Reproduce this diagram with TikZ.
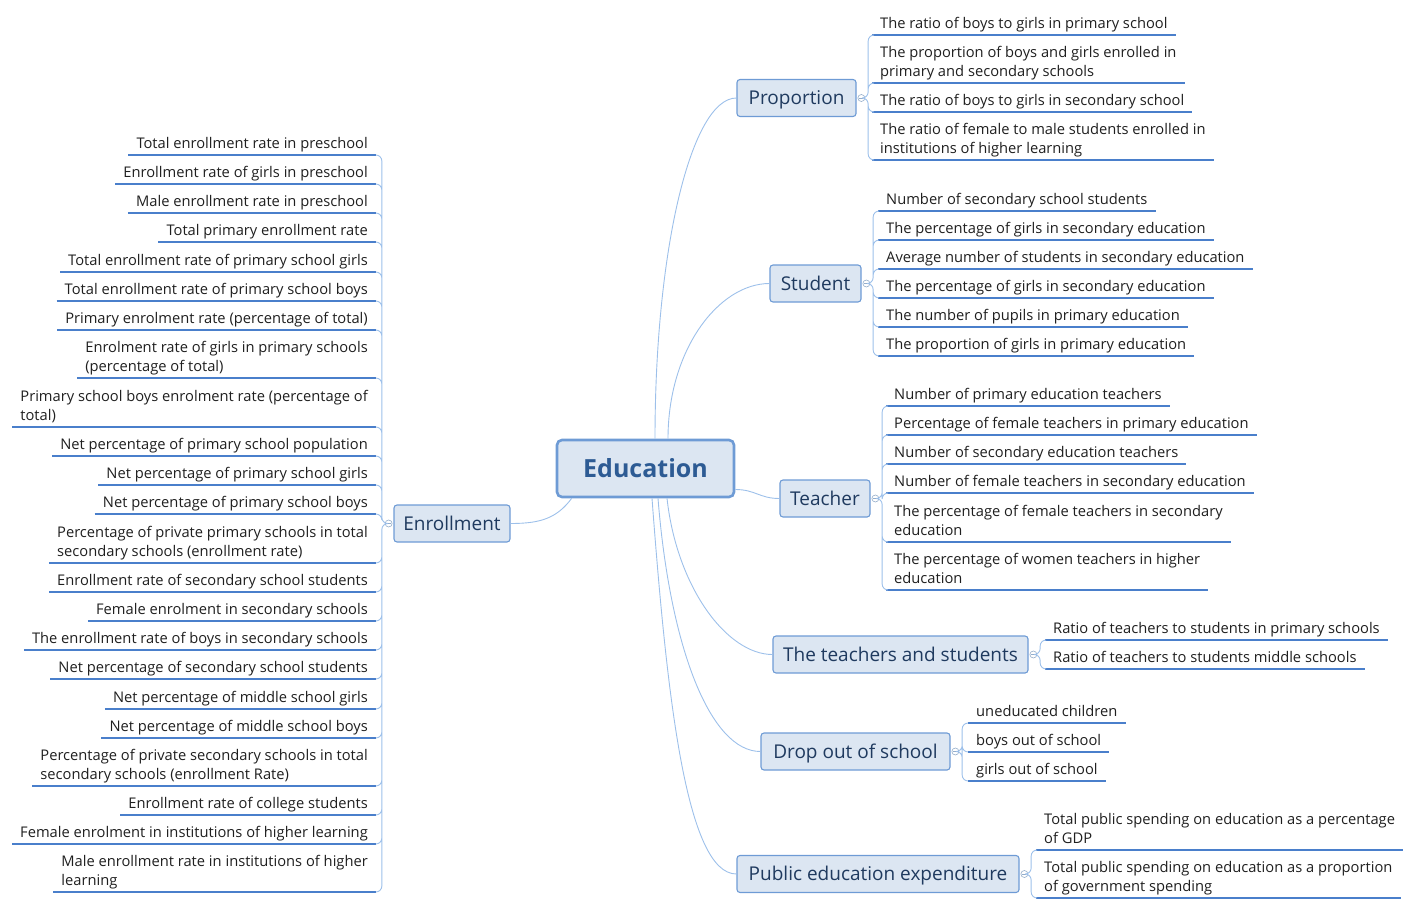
\documentclass[tikz,border=0pt]{standalone}
\usepackage{fontspec}
\setmainfont{Open Sans}
\usetikzlibrary{positioning}
\definecolor{boxfill}{HTML}{DCE6F2}
\definecolor{boxline}{HTML}{6E9BD5}
\definecolor{topictext}{HTML}{1F3A5F}
\definecolor{edutext}{HTML}{2D5B94}
\definecolor{twig}{HTML}{9DC0EA}
\definecolor{uline}{HTML}{4A7FCB}
\tikzset{
root/.style={draw=boxline, line width=2.6pt, fill=boxfill, rounded corners=5pt,
  minimum width=177pt, minimum height=57pt, text=edutext,
  text height=22pt, text depth=4pt,
  font=\fontsize{25}{30}\selectfont\bfseries},
topic/.style={draw=boxline, line width=1.1pt, fill=boxfill, rounded corners=3pt,
  inner xsep=4pt, minimum height=37pt, text=topictext,
  text height=17pt, text depth=3.5pt,
  font=\fontsize{19}{23}\selectfont},
leaf/.style={inner xsep=8pt, inner ysep=3pt, text depth=3pt, align=left,
  text=black!88, font=\fontsize{14.7}{19}\selectfont,
  append after command={(\tikzlastnode.south west) edge[draw=uline, line width=1.4pt] (\tikzlastnode.south east)}},
leafR/.style={leaf, anchor=south west},
leafL/.style={leaf, anchor=south east},
hub/.style={circle, draw=twig!70!gray, fill=white, line width=0.6pt, inner sep=0pt,
  minimum size=7pt, path picture={\draw[twig!70!gray, line width=0.5pt]
  ([xshift=-2pt]path picture bounding box.center) -- ([xshift=2pt]path picture bounding box.center);}},
stem/.style={draw=twig, line width=0.9pt},
brR/.style={stem, rounded corners=6pt, to path={-- ++(3,0) |- (\tikztotarget)}},
brL/.style={stem, rounded corners=6pt, to path={-- ++(-3,0) |- (\tikztotarget)}}
}

\begin{document}
\begin{tikzpicture}[x=1pt, y=1pt]
\useasboundingbox (0,0) rectangle (1414,-907);

% main topics
\node[root] (edu) at (645.5,-468.5) {Education};
\node[topic, minimum width=119pt] (pro) at (796.5,-98) {Proportion};
\node[topic, minimum width=91pt] (stu) at (815.5,-283.5) {Student};
\node[topic, minimum width=90pt] (tea) at (825,-498.5) {Teacher};
\node[topic, minimum width=255pt] (tas) at (900.5,-654.5) {The teachers and students};
\node[topic, minimum width=189pt] (dro) at (855.5,-751.5) {Drop out of school};
\node[topic, minimum width=282pt] (pub) at (878,-874) {Public education expenditure};
\node[topic, minimum width=116pt] (enr) at (452,-523.5) {Enrollment};

\node[hub, right=1pt of pro] (pro-h) {};
\node[hub, right=1pt of stu] (stu-h) {};
\node[hub, right=1pt of tea] (tea-h) {};
\node[hub, right=1pt of tas] (tas-h) {};
\node[hub, right=1pt of dro] (dro-h) {};
\node[hub, right=1pt of pub] (pub-h) {};
\node[hub, left=1pt of enr] (enr-h) {};

% from the centre
\draw[stem] ([xshift=9.5pt]edu.north) .. controls +(0,190) and +(-45,0) .. (pro.west);
\draw[stem] ([xshift=22.5pt]edu.north) .. controls +(0,90) and +(-50,0) .. (stu.west);
\draw[stem] ([yshift=-21pt]edu.east) .. controls +(20,0) and +(-20,0) .. (tea.west);
\draw[stem] ([xshift=21.5pt]edu.south) .. controls +(10,-90) and +(-45,0) .. (tas.west);
\draw[stem] ([xshift=12.5pt]edu.south) .. controls +(12,-150) and +(-50,0) .. (dro.west);
\draw[stem] ([xshift=6.5pt]edu.south) .. controls +(15,-200) and +(-50,0) .. (pub.west);
\draw[stem] ([xshift=16pt]edu.south west) .. controls +(-15,-20) and +(30,0) .. (enr.east);

% Proportion
\node[leafR] (pro1) at (872,-35) {The ratio of boys to girls in primary school};
\node[leafR] (pro2) at (872,-83) {The proportion of boys and girls enrolled in\\primary and secondary schools};
\node[leafR] (pro3) at (872,-112) {The ratio of boys to girls in secondary school};
\node[leafR] (pro4) at (872,-160) {The ratio of female to male students enrolled in\\institutions of higher learning};
\draw[brR] (pro-h.east) to (pro1.south west) (pro-h.east) to (pro2.south west)
  (pro-h.east) to (pro3.south west) (pro-h.east) to (pro4.south west);

% Student
\node[leafR] (stu1) at (878,-211) {Number of secondary school students};
\node[leafR] (stu2) at (878,-240) {The percentage of girls in secondary education};
\node[leafR] (stu3) at (878,-269) {Average number of students in secondary education};
\node[leafR] (stu4) at (878,-298) {The percentage of girls in secondary education};
\node[leafR] (stu5) at (878,-327) {The number of pupils in primary education};
\node[leafR] (stu6) at (878,-356) {The proportion of girls in primary education};
\draw[brR] (stu-h.east) to (stu1.south west) (stu-h.east) to (stu2.south west)
  (stu-h.east) to (stu3.south west) (stu-h.east) to (stu4.south west)
  (stu-h.east) to (stu5.south west) (stu-h.east) to (stu6.south west);

% Teacher
\node[leafR] (tea1) at (886,-406) {Number of primary education teachers};
\node[leafR] (tea2) at (886,-435) {Percentage of female teachers in primary education};
\node[leafR] (tea3) at (886,-464) {Number of secondary education teachers};
\node[leafR] (tea4) at (886,-493) {Number of female teachers in secondary education};
\node[leafR] (tea5) at (886,-542) {The percentage of female teachers in secondary\\education};
\node[leafR] (tea6) at (886,-590) {The percentage of women teachers in higher\\education};
\draw[brR] (tea-h.east) to (tea1.south west) (tea-h.east) to (tea2.south west)
  (tea-h.east) to (tea3.south west) (tea-h.east) to (tea4.south west)
  (tea-h.east) to (tea5.south west) (tea-h.east) to (tea6.south west);

% The teachers and students
\node[leafR] (tas1) at (1045,-640) {Ratio of teachers to students in primary schools};
\node[leafR] (tas2) at (1045,-669) {Ratio of teachers to students middle schools};
\draw[brR] (tas-h.east) to (tas1.south west) (tas-h.east) to (tas2.south west);

% Drop out of school
\node[leafR] (dro1) at (968,-723) {uneducated children};
\node[leafR] (dro2) at (968,-752) {boys out of school};
\node[leafR] (dro3) at (968,-781) {girls out of school};
\draw[brR] (dro-h.east) to (dro1.south west) (dro-h.east) to (dro2.south west)
  (dro-h.east) to (dro3.south west);

% Public education expenditure
\node[leafR] (pub1) at (1036,-850) {Total public spending on education as a percentage\\of GDP};
\node[leafR] (pub2) at (1036,-898) {Total public spending on education as a proportion\\of government spending};
\draw[brR] (pub-h.east) to (pub1.south west) (pub-h.east) to (pub2.south west);

% Enrollment
\node[leafL] (enr1) at (376,-155) {Total enrollment rate in preschool};
\node[leafL] (enr2) at (376,-184) {Enrollment rate of girls in preschool};
\node[leafL] (enr3) at (376,-213) {Male enrollment rate in preschool};
\node[leafL] (enr4) at (376,-242) {Total primary enrollment rate};
\node[leafL] (enr5) at (376,-272) {Total enrollment rate of primary school girls};
\node[leafL] (enr6) at (376,-301) {Total enrollment rate of primary school boys};
\node[leafL] (enr7) at (376,-330) {Primary enrolment rate (percentage of total)};
\node[leafL] (enr8) at (376,-378) {Enrolment rate of girls in primary schools\\(percentage of total)};
\node[leafL] (enr9) at (376,-427) {Primary school boys enrolment rate (percentage of\\total)};
\node[leafL] (enr10) at (376,-456) {Net percentage of primary school population};
\node[leafL] (enr11) at (376,-485) {Net percentage of primary school girls};
\node[leafL] (enr12) at (376,-514) {Net percentage of primary school boys};
\node[leafL] (enr13) at (376,-563) {Percentage of private primary schools in total\\secondary schools (enrollment rate)};
\node[leafL] (enr14) at (376,-592) {Enrollment rate of secondary school students};
\node[leafL] (enr15) at (376,-621) {Female enrolment in secondary schools};
\node[leafL] (enr16) at (376,-650) {The enrollment rate of boys in secondary schools};
\node[leafL] (enr17) at (376,-679) {Net percentage of secondary school students};
\node[leafL] (enr18) at (376,-709) {Net percentage of middle school girls};
\node[leafL] (enr19) at (376,-738) {Net percentage of middle school boys};
\node[leafL] (enr20) at (376,-786) {Percentage of private secondary schools in total\\secondary schools (enrollment Rate)};
\node[leafL] (enr21) at (376,-815) {Enrollment rate of college students};
\node[leafL] (enr22) at (376,-844) {Female enrolment in institutions of higher learning};
\node[leafL] (enr23) at (376,-892) {Male enrollment rate in institutions of higher\\learning};
\draw[brL] (enr-h.west) to (enr1.south east) (enr-h.west) to (enr2.south east)
  (enr-h.west) to (enr3.south east) (enr-h.west) to (enr4.south east)
  (enr-h.west) to (enr5.south east) (enr-h.west) to (enr6.south east)
  (enr-h.west) to (enr7.south east) (enr-h.west) to (enr8.south east)
  (enr-h.west) to (enr9.south east) (enr-h.west) to (enr10.south east)
  (enr-h.west) to (enr11.south east) (enr-h.west) to (enr12.south east)
  (enr-h.west) to (enr13.south east) (enr-h.west) to (enr14.south east)
  (enr-h.west) to (enr15.south east) (enr-h.west) to (enr16.south east)
  (enr-h.west) to (enr17.south east) (enr-h.west) to (enr18.south east)
  (enr-h.west) to (enr19.south east) (enr-h.west) to (enr20.south east)
  (enr-h.west) to (enr21.south east) (enr-h.west) to (enr22.south east)
  (enr-h.west) to (enr23.south east);
\end{tikzpicture}
\end{document}
